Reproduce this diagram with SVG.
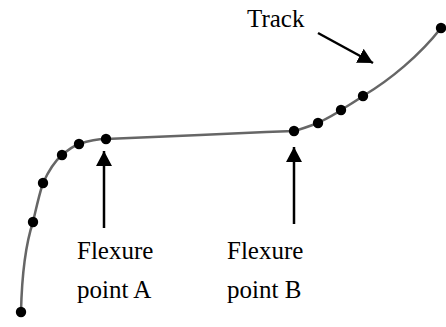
<svg xmlns="http://www.w3.org/2000/svg" width="446" height="327" viewBox="0 0 446 327">
  <style>
    text { font-family: "Liberation Serif", "Times New Roman", Times, serif; font-size: 25px; fill: #000; }
    .track { fill: none; stroke: #666; stroke-width: 2.5; stroke-linejoin: round; stroke-linecap: round; }
    .dot { fill: #000; }
    .arrow { stroke: #000; stroke-width: 2.5; fill: none; marker-end: url(#head); }
  </style>
  <defs>
    <marker id="head" markerUnits="userSpaceOnUse" markerWidth="16" markerHeight="16" refX="15" refY="8" orient="auto">
      <path d="M0,0 L15,8 L0,16 z" fill="#000"/>
    </marker>
  </defs>

  <!-- measured track curve -->
  <g id="track">
    <path class="track" d="M21,312 C22,270 27,240 33,222 C37,205 39,195 43,183 C49,170 55,161 62,155 C68,150 73,146 79,144 C88,141 97,139 106,139 L200,135 L266,132 L294,131 C302,129 310,126 318,123 C326,119 334,115 341,110 C349,105 356,101 363,96 C390,80 420,55 441,28"/>
    <circle class="dot" cx="21" cy="312" r="5.2"/>
    <circle class="dot" cx="33" cy="222" r="5.2"/>
    <circle class="dot" cx="43" cy="183" r="5.2"/>
    <circle class="dot" cx="62" cy="155" r="5.2"/>
    <circle class="dot" cx="79" cy="144" r="5.2"/>
    <circle class="dot" cx="106" cy="139" r="5.2"/>
    <circle class="dot" cx="294" cy="131" r="5.2"/>
    <circle class="dot" cx="318" cy="123" r="5.2"/>
    <circle class="dot" cx="341" cy="110" r="5.2"/>
    <circle class="dot" cx="363" cy="96" r="5.2"/>
    <circle class="dot" cx="441" cy="28" r="5.2"/>
  </g>

  <g id="connectors">
    <line class="arrow" x1="318" y1="33" x2="373" y2="63"/>
    <line class="arrow" x1="104" y1="228" x2="104" y2="151"/>
    <line class="arrow" x1="294" y1="224" x2="294" y2="147"/>
  </g>

  <g id="label-track">
    <text x="247" y="27" font-family="Liberation Serif">Track</text>
  </g>
  <g id="label-a">
    <text x="77" y="259" font-family="Liberation Serif">Flexure</text>
    <text x="77" y="298" font-family="Liberation Serif">point A</text>
  </g>
  <g id="label-b">
    <text x="227" y="259" font-family="Liberation Serif">Flexure</text>
    <text x="227" y="298" font-family="Liberation Serif">point B</text>
  </g>
</svg>
